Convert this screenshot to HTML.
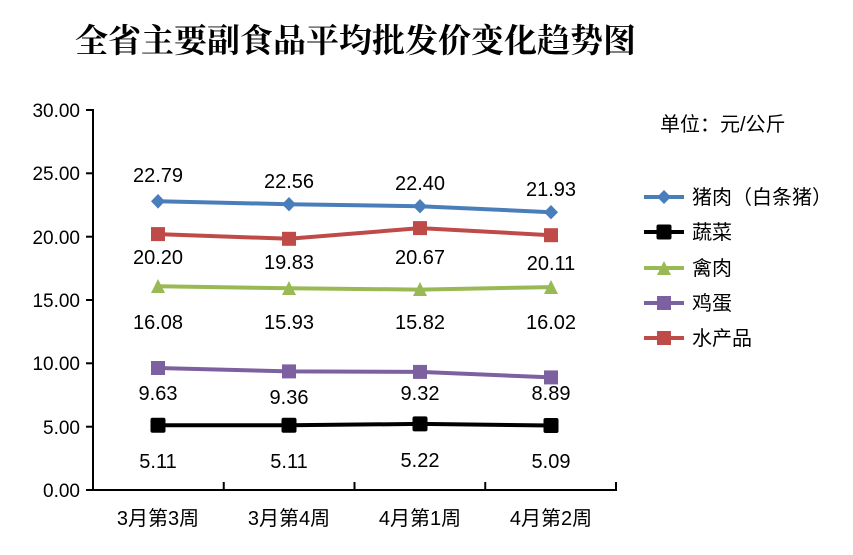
<!DOCTYPE html>
<html><head><meta charset="utf-8"><style>
body{margin:0;background:#fff}
text{font-family:"Liberation Sans","Noto Sans CJK SC",sans-serif;fill:#000}
</style></head><body>
<svg width="853" height="550" xmlns="http://www.w3.org/2000/svg">
<text x="75" y="52" font-size="33" font-weight="bold" style="font-family:'Noto Serif CJK SC','Noto Sans CJK SC',serif">全省主要副食品平均批发价变化趋势图</text>
<text x="660" y="131" font-size="20">单位：元/公斤</text>
<g stroke="#000" stroke-width="2" fill="none">
<line x1="93" y1="109" x2="93" y2="490"/>
<line x1="92" y1="490" x2="617" y2="490"/>
<line x1="86" y1="110" x2="93" y2="110"/>
<line x1="86" y1="173.3" x2="93" y2="173.3"/>
<line x1="86" y1="236.7" x2="93" y2="236.7"/>
<line x1="86" y1="300" x2="93" y2="300"/>
<line x1="86" y1="363.3" x2="93" y2="363.3"/>
<line x1="86" y1="426.7" x2="93" y2="426.7"/>
<line x1="86" y1="490" x2="93" y2="490"/>
<line x1="223.75" y1="482" x2="223.75" y2="490"/>
<line x1="354.5" y1="482" x2="354.5" y2="490"/>
<line x1="485.25" y1="482" x2="485.25" y2="490"/>
<line x1="616" y1="482" x2="616" y2="490"/>
</g>
<g font-size="19" text-anchor="end">
<text x="80" y="117">30.00</text><text x="80" y="180">25.00</text><text x="80" y="244">20.00</text>
<text x="80" y="307">15.00</text><text x="80" y="370">10.00</text><text x="80" y="434">5.00</text><text x="80" y="497">0.00</text>
</g>
<g font-size="20" text-anchor="middle">
<text x="158" y="525">3月第3周</text><text x="289" y="525">3月第4周</text><text x="420" y="525">4月第1周</text><text x="551" y="525">4月第2周</text>
</g>
<polyline points="158,201.3 289,204.2 420,206.2 551,212.2" fill="none" stroke="#4a7ebb" stroke-width="4"/>
<g fill="#4a7ebb">
<polygon points="158,194 165,201.3 158,208.6 151,201.3"/><polygon points="289,197 296,204.2 289,211.4 282,204.2"/>
<polygon points="420,199 427,206.2 420,213.4 413,206.2"/><polygon points="551,205 558,212.2 551,219.4 544,212.2"/>
</g>
<polyline points="158,234.1 289,238.8 420,228.1 551,235.2" fill="none" stroke="#be4b48" stroke-width="4"/>
<g fill="#be4b48">
<rect x="151" y="227.1" width="14" height="14"/><rect x="282" y="231.8" width="14" height="14"/>
<rect x="413" y="221.1" width="14" height="14"/><rect x="544" y="228.2" width="14" height="14"/>
</g>
<polyline points="158,286.3 289,288.2 420,289.6 551,287.1" fill="none" stroke="#98b954" stroke-width="4"/>
<g fill="#98b954">
<polygon points="158,279 165,293 151,293"/><polygon points="289,281 296,295 282,295"/>
<polygon points="420,282 427,296 413,296"/><polygon points="551,280 558,294 544,294"/>
</g>
<polyline points="158,368 289,371.4 420,371.9 551,377.4" fill="none" stroke="#7d60a0" stroke-width="4"/>
<g fill="#7d60a0">
<rect x="151" y="361" width="14" height="14"/><rect x="282" y="364.4" width="14" height="14"/>
<rect x="413" y="364.9" width="14" height="14"/><rect x="544" y="370.4" width="14" height="14"/>
</g>
<polyline points="158,425.3 289,425.3 420,423.9 551,425.5" fill="none" stroke="#000" stroke-width="4"/>
<g fill="#000">
<rect x="150.5" y="417.8" width="15" height="15" rx="2"/><rect x="281.5" y="417.8" width="15" height="15" rx="2"/>
<rect x="412.5" y="416.4" width="15" height="15" rx="2"/><rect x="543.5" y="418" width="15" height="15" rx="2"/>
</g>
<g font-size="20" text-anchor="middle">
<text x="158" y="182">22.79</text><text x="289" y="188">22.56</text><text x="420" y="190">22.40</text><text x="551" y="196">21.93</text>
<text x="158" y="264">20.20</text><text x="289" y="269">19.83</text><text x="420" y="264">20.67</text><text x="551" y="270">20.11</text>
<text x="158" y="329">16.08</text><text x="289" y="329">15.93</text><text x="420" y="329">15.82</text><text x="551" y="329">16.02</text>
<text x="158" y="400">9.63</text><text x="289" y="404">9.36</text><text x="420" y="400">9.32</text><text x="551" y="400">8.89</text>
<text x="158" y="468">5.11</text><text x="289" y="468">5.11</text><text x="420" y="467">5.22</text><text x="551" y="468">5.09</text>
</g>
<line x1="644" y1="197" x2="684" y2="197" stroke="#4a7ebb" stroke-width="4"/><polygon points="664,190 671,197 664,204 657,197" fill="#4a7ebb"/>
<line x1="644" y1="232" x2="684" y2="232" stroke="#000" stroke-width="4"/><rect x="656.5" y="224.5" width="15" height="15" rx="2"/>
<line x1="644" y1="268" x2="684" y2="268" stroke="#98b954" stroke-width="4"/><polygon points="664,261 671,275 657,275" fill="#98b954"/>
<line x1="644" y1="303" x2="684" y2="303" stroke="#7d60a0" stroke-width="4"/><rect x="657" y="296" width="14" height="14" fill="#7d60a0"/>
<line x1="644" y1="338" x2="684" y2="338" stroke="#be4b48" stroke-width="4"/><rect x="657" y="331" width="14" height="14" fill="#be4b48"/>
<g font-size="20">
<text x="692" y="204">猪肉（白条猪）</text><text x="692" y="239">蔬菜</text><text x="692" y="275">禽肉</text><text x="692" y="310">鸡蛋</text><text x="692" y="345">水产品</text>
</g>
</svg>
</body></html>
